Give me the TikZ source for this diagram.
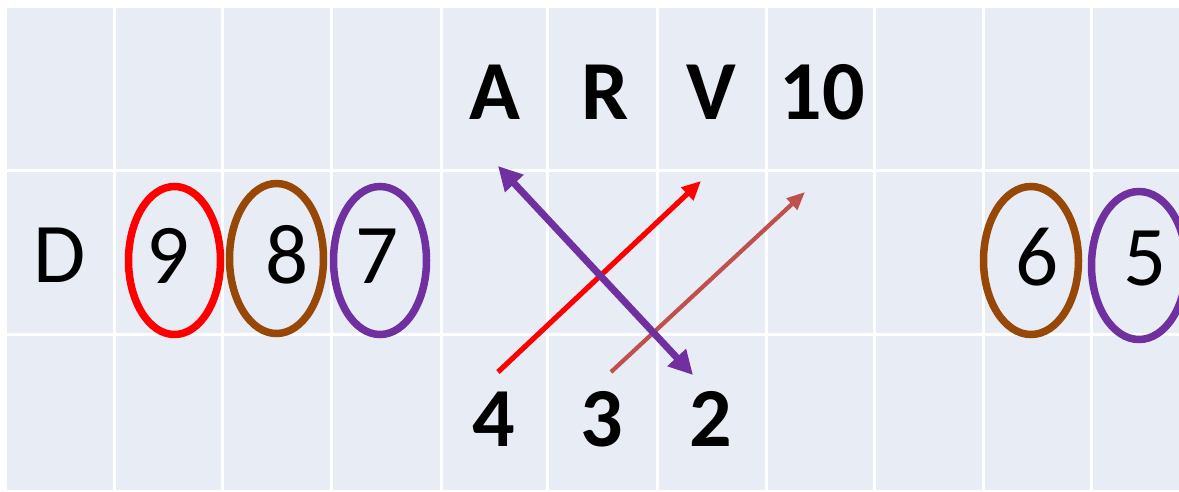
\documentclass[tikz,border=0pt]{standalone}
\usepackage{fontspec}
\setmainfont{Carlito}
\usetikzlibrary{arrows.meta,shapes.geometric}
\definecolor{cellbg}{RGB}{232,236,244}
\definecolor{myred}{RGB}{255,0,0}
\definecolor{mybrown}{RGB}{151,72,6}
\definecolor{mypurple}{RGB}{112,48,160}
\definecolor{mylightred}{RGB}{192,80,77}
\tikzset{
  plain/.style={font=\fontsize{85}{90}\selectfont, inner sep=0pt, anchor=base},
  bold/.style={font=\fontsize{84}{90}\selectfont\bfseries, inner sep=0pt, anchor=base},
  ring/.style={ellipse, draw, line width=7.5pt, inner sep=0pt},
  gridline/.style={white, line width=3pt},
}
\begin{document}
\begin{tikzpicture}[x=1pt,y=-1pt]
\useasboundingbox (0,0) rectangle (1179,491);
\fill[white] (0,0) rectangle (1179,491);
\fill[cellbg] (7,8) rectangle (1179,490);
\foreach \xx in {114,222.5,331.5,441.5,547.5,657,766,874.5,983.5,1091.5}
  \draw[gridline] (\xx,8) -- (\xx,490);
\foreach \yy in {170,334}
  \draw[gridline] (7,\yy) -- (1179,\yy);

% rings
\node[ring, draw=myred, minimum width=92pt, minimum height=148pt] (r9) at (174.5,260.5) {};
\node[ring, draw=mybrown, minimum width=94pt, minimum height=150pt] (r8) at (276.5,258.5) {};
\node[ring, draw=mypurple, minimum width=93pt, minimum height=148pt] (r7) at (380,260.5) {};
\node[ring, draw=mybrown, minimum width=95pt, minimum height=148pt] (r6) at (1031,260.5) {};
\node[ring, draw=mypurple, minimum width=95pt, minimum height=148pt] (r5) at (1139,265.5) {};

% middle row text
\node[plain] (D) at (60,282) {D};
\node[plain] (n9) at (168,283) {9};
\node[plain] (n8) at (287,283) {8};
\node[plain] (n7) at (377,283) {7};
\node[plain] (n6) at (1037,285) {6};
\node[plain] (n5) at (1145,285) {5};

% top row
\node[bold] (A) at (495,119) {A};
\node[bold] (R) at (605,119) {R};
\node[bold] (V) at (711,119) {V};
\node[bold] (t10) at (822,119) {10};

% bottom row
\node[bold] (b4) at (494,446) {4};
\node[bold] (b3) at (602,446) {3};
\node[bold] (b2) at (711,446) {2};

% arrow end points
\coordinate (pA) at (498,166);
\coordinate (pB) at (693,375);
\coordinate (rS) at (498,372);
\coordinate (rE) at (701,181);
\coordinate (lS) at (611,372);
\coordinate (lE) at (805,192);

\draw[myred, line width=5.2pt, -{Triangle[length=19pt,width=17pt]}] (rS) -- (rE);
\draw[mylightred, line width=4.2pt, -{Triangle[length=18pt,width=15pt]}] (lS) -- (lE);
\draw[mypurple, line width=7pt, {Triangle[length=24pt,width=24pt]}-{Triangle[length=24pt,width=24pt]}] (pA) -- (pB);
\end{tikzpicture}
\end{document}
